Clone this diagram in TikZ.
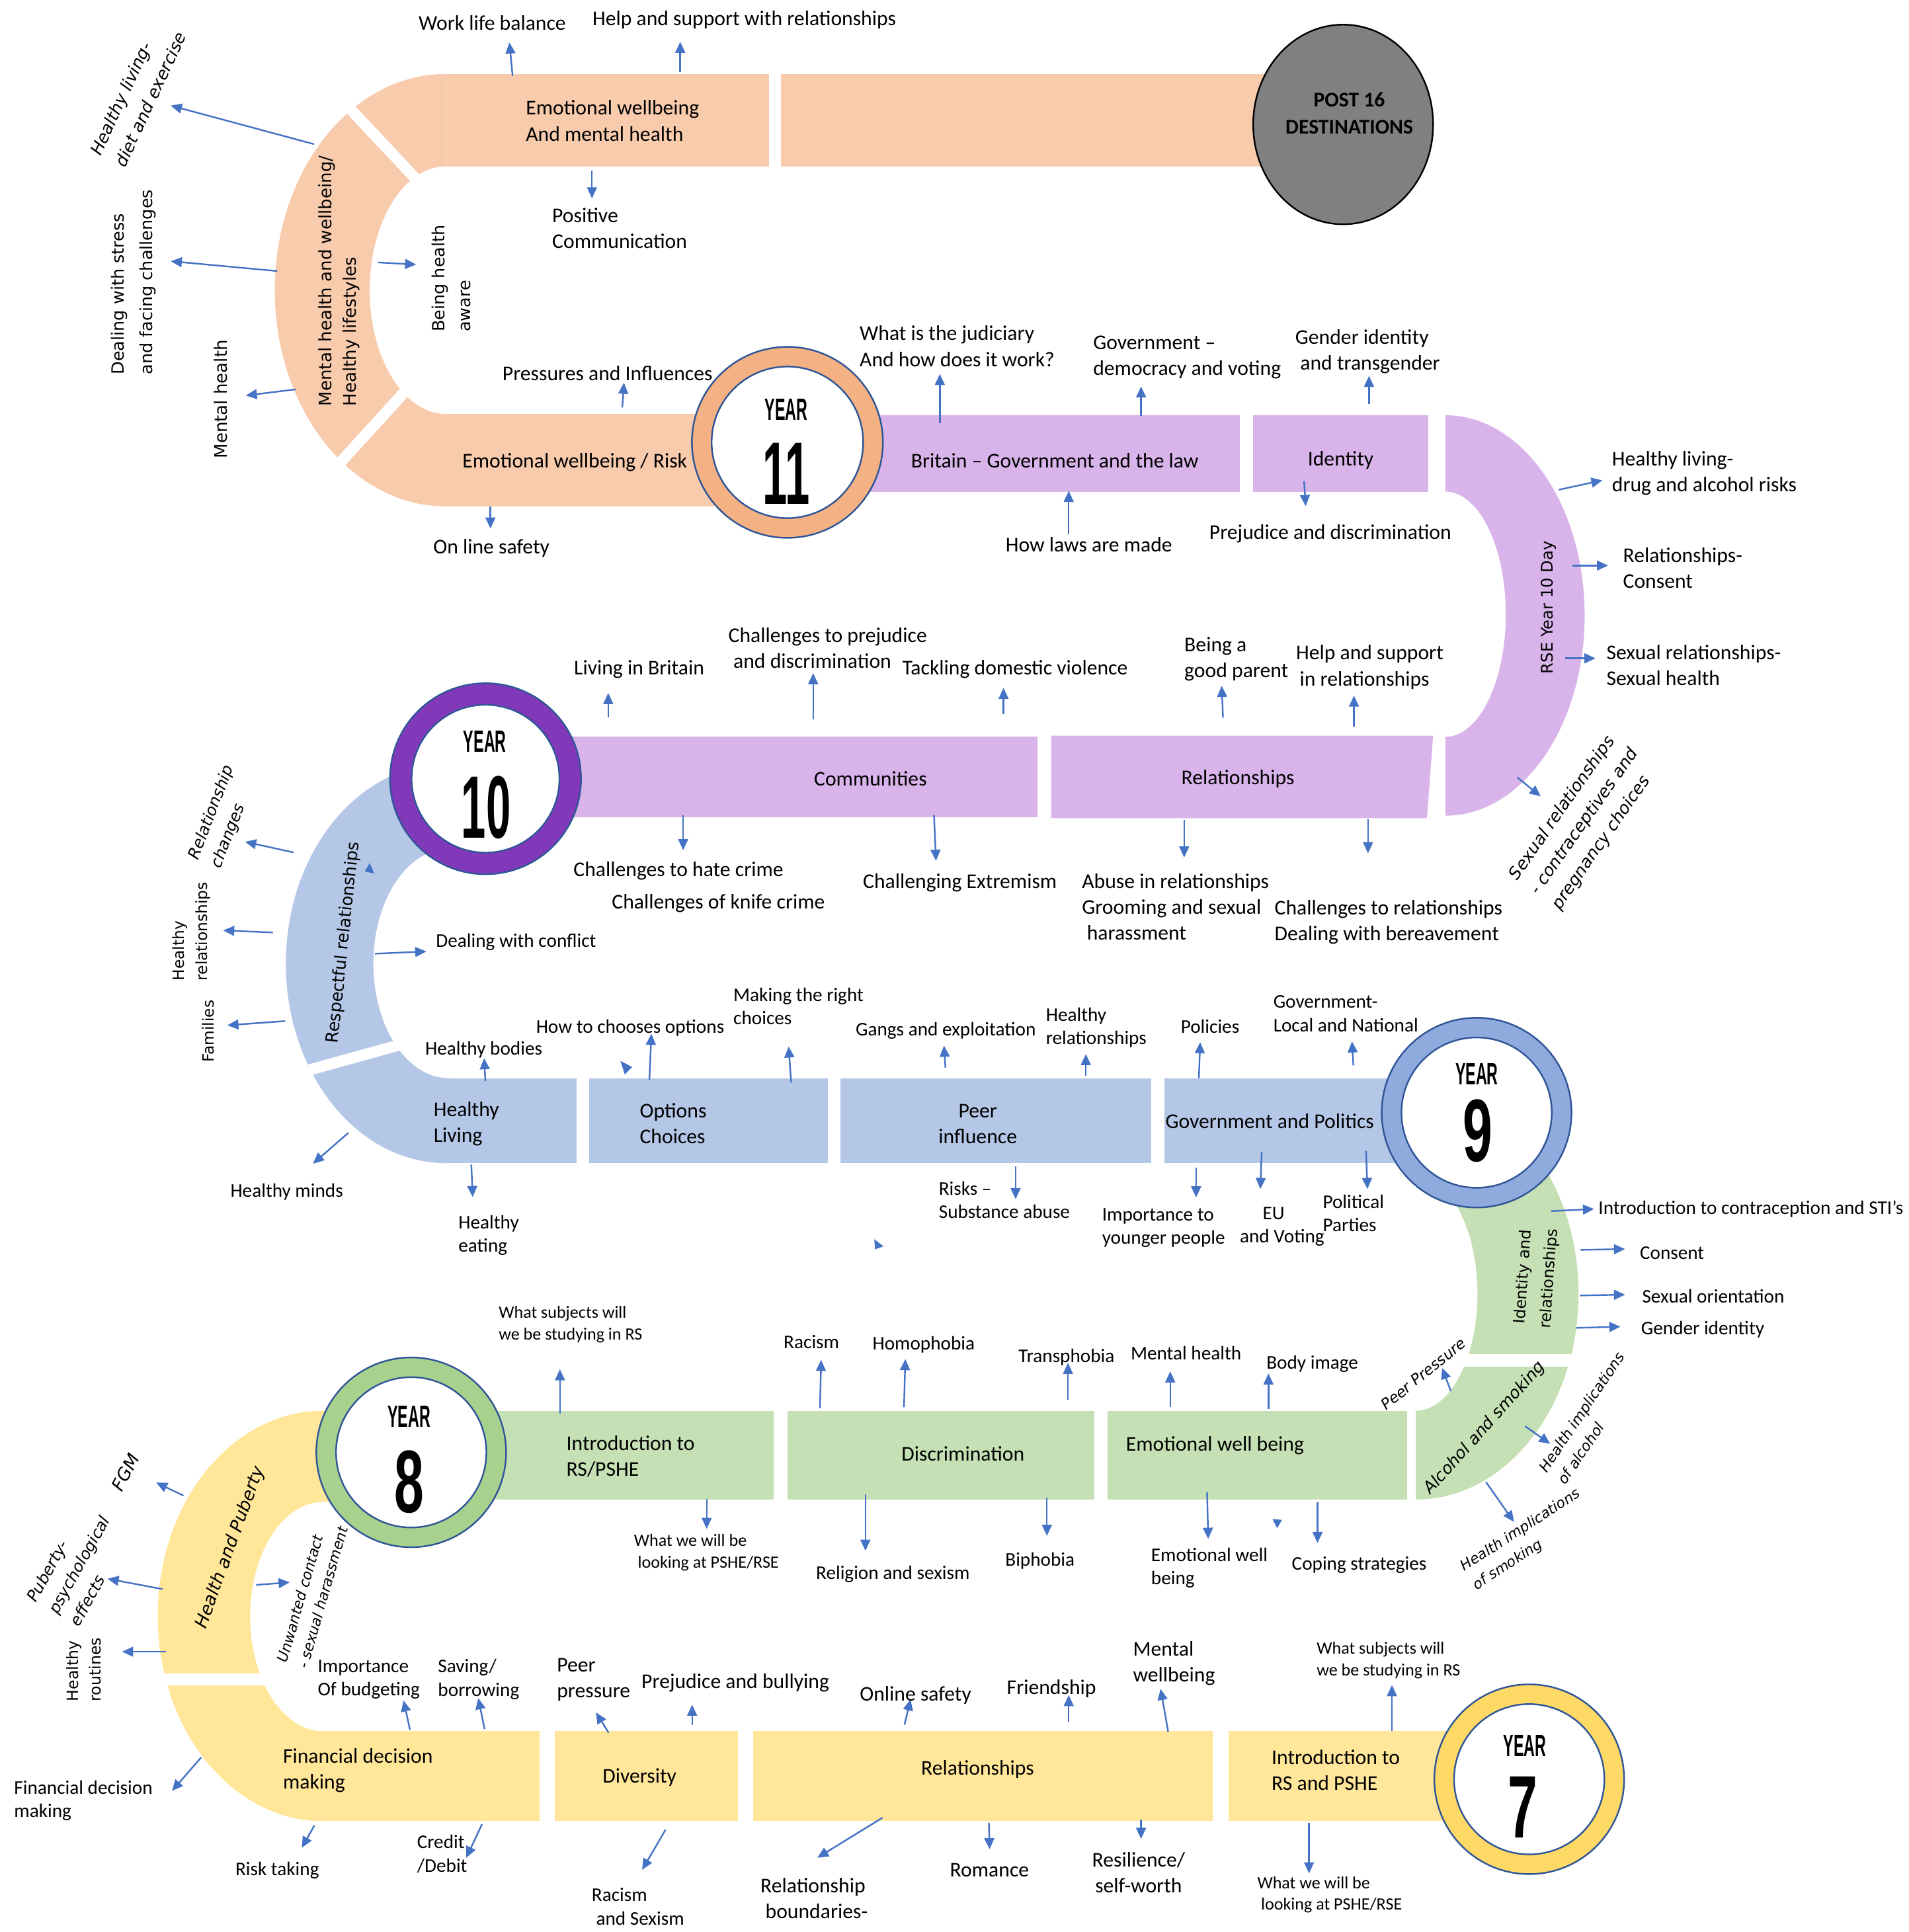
\documentclass[tikz,border=0pt]{standalone}
\usepackage{graphicx}
\usepackage{fontspec}
\setmainfont{Carlito}
\newfontfamily\vfont{DejaVu Sans}
\newfontfamily\yfont{Liberation Sans}
\usetikzlibrary{arrows.meta,shapes.geometric}
\definecolor{peach}{HTML}{F8CBAD}
\definecolor{lav}{HTML}{D8B4EA}
\definecolor{lblue}{HTML}{B4C7E7}
\definecolor{lgreen}{HTML}{C5E0B4}
\definecolor{lyellow}{HTML}{FFE699}
\definecolor{ringA}{HTML}{F4B183}
\definecolor{ringB}{HTML}{8139BA}
\definecolor{ringC}{HTML}{8FAADC}
\definecolor{ringD}{HTML}{A9D18E}
\definecolor{ringE}{HTML}{FFD966}
\definecolor{outl}{HTML}{2F5597}
\definecolor{arrowblue}{HTML}{4472C4}
\definecolor{greyA}{HTML}{808080}
\newcommand\arrw[3]{\coordinate (#1a) at (#2); \coordinate (#1b) at (#3); \draw[arr] (#1a) -- (#1b);}
\newcommand\yeartext[1]{\scalebox{0.5}[1]{#1}}
\tikzset{
 lbl/.style={inner sep=0pt, font=\fontsize{17}{21}\selectfont, align=left},
 mid/.style={inner sep=0pt, font=\fontsize{15.7}{19}\selectfont, align=left},
 sml/.style={inner sep=0pt, font=\fontsize{14}{17.5}\selectfont, align=left},
 vlbl/.style={inner sep=0pt, font=\vfont\fontsize{13.5}{22}\selectfont, align=left},
 vit/.style={inner sep=0pt, font=\vfont\itshape\fontsize{13.5}{21}\selectfont, align=left},
 arr/.style={draw=arrowblue, line width=1.3pt, -{Triangle[length=9pt,width=8pt]}},
 gapline/.style={draw=white, line width=9pt},
 ring/.style={circle, draw=outl, line width=1.3pt, inner sep=0pt, minimum size=155pt},
 hole/.style={circle, draw=outl, fill=white, line width=1.3pt, inner sep=0pt, minimum size=122pt},
 yr/.style={inner sep=0pt, font=\yfont\bfseries\fontsize{25}{25}\selectfont},
 yn/.style={inner sep=0pt, font=\yfont\bfseries\fontsize{72}{72}\selectfont},
 stray/.style={fill=arrowblue},
}
\begin{document}
\begin{tikzpicture}[x=1pt,y=-1pt]
\useasboundingbox (0,0) rectangle (1549,1568);
\fill[white] (0,0) rectangle (1549,1568);

% ---------- Year 11 (peach) ----------
\fill[peach] (362,60) .. controls (285.2,60) and (223,138.6) .. (223,235.5)
  .. controls (223,332.4) and (285.2,411) .. (362,411) -- (362,336)
  .. controls (327.8,336) and (300,291) .. (300,235.5)
  .. controls (300,180) and (327.8,135) .. (362,135) -- cycle;
\fill[peach] (362,60) rectangle (624,135);
\fill[peach] (634,60) rectangle (1090,135);
\fill[peach] (360,336) rectangle (600,411);
\draw[gapline] (280,84) -- (342,150);
\draw[gapline] (333,313) -- (271,381);

% ---------- purple ----------
\fill[lav] (690,337) rectangle (1006,399);
\fill[lav] (1017,337) rectangle (1159,399);
\fill[lav] (1173,337) .. controls (1235.4,337) and (1286,409.8) .. (1286,499.5)
  .. controls (1286,589.2) and (1235.4,662) .. (1173,662) -- (1173,598)
  .. controls (1200.1,598) and (1222,553.5) .. (1222,498.5)
  .. controls (1222,443.5) and (1200.1,399) .. (1173,399) -- cycle;
\fill[lav] (430,598) rectangle (842,663);
\fill[lav] (853,597) -- (1163,597) -- (1158,664) -- (853,664) -- cycle;

% ---------- blue ----------
\fill[lblue] (362,620) .. controls (290.2,620) and (232,692.5) .. (232,782)
  .. controls (232,871.5) and (290.2,944) .. (362,944) -- (364,875)
  .. controls (330.3,875) and (303,833.4) .. (303,782)
  .. controls (303,730.6) and (330.3,689) .. (364,689) -- cycle;
\draw[gapline] (245,870) -- (328,847);
\fill[lblue] (360,875) rectangle (468,944);
\fill[lblue] (478,875) rectangle (672,944);
\fill[lblue] (682,875) rectangle (934,944);
\fill[lblue] (945,875) rectangle (1150,944);

% ---------- green ----------
\fill[lgreen] (1149,883) .. controls (1221.9,883) and (1281,957.8) .. (1281,1050)
  .. controls (1281,1142.2) and (1221.9,1217) .. (1149,1217) -- (1149,1145)
  .. controls (1176.6,1145) and (1199,1102.5) .. (1199,1050)
  .. controls (1199,997.5) and (1176.6,955) .. (1149,955) -- cycle;
\draw[gapline, line width=10pt] (1175,1104) -- (1292,1104);
\fill[lgreen] (380,1145) rectangle (628,1217);
\fill[lgreen] (639,1145) rectangle (888,1217);
\fill[lgreen] (899,1145) rectangle (1142,1217);

% ---------- yellow ----------
\fill[lyellow] (290,1145) -- (262,1145) .. controls (188,1145) and (128,1219.5) .. (128,1311.5)
  .. controls (128,1403.5) and (188,1478) .. (262,1478) -- (262,1405)
  .. controls (229.4,1405) and (203,1363.4) .. (203,1312)
  .. controls (203,1260.6) and (229.4,1219) .. (262,1219) -- (290,1219) -- cycle;
\draw[gapline, line width=10pt] (112,1363) -- (218,1363);
\fill[lyellow] (257,1405) rectangle (438,1478);
\fill[lyellow] (450,1405) rectangle (599,1478);
\fill[lyellow] (611,1405) rectangle (984,1478);
\fill[lyellow] (997,1405) rectangle (1200,1478);

% ---------- circles ----------
\node[ellipse, fill=greyA, draw=black, line width=1.3pt, inner sep=0pt, minimum width=146pt, minimum height=162pt] (p16) at (1090,101) {};
\node[inner sep=0pt, font=\bfseries\fontsize{17}{22}\selectfont, align=center] (p16t) at (1095,91.7) {POST 16\\DESTINATIONS};

\node[ring, fill=ringA] (c11) at (639,359) {};
\node[hole, minimum size=123pt] (h11) at (639,359) {};
\node[yr] (y11a) at (638,332.5) {\yeartext{YEAR}};
\node[yn] (y11b) at (638,384.5) {\yeartext{11}};

\node[ring, fill=ringB] (c10) at (394,632) {};
\node[hole, minimum size=120pt] (h10) at (394,632) {};
\node[yr] (y10a) at (393.5,602) {\yeartext{YEAR}};
\node[yn] (y10b) at (394.5,655.5) {\yeartext{10}};

\node[ring, fill=ringC, minimum size=154pt] (c9) at (1198.3,903) {};
\node[hole] (h9) at (1198.3,903) {};
\node[yr] (y9a) at (1198.5,871.5) {\yeartext{YEAR}};
\node[yn] (y9b) at (1199.5,918) {\scalebox{0.6}[1]{9}};

\node[ring, fill=ringD, minimum size=154pt] (c8) at (333.7,1178.7) {};
\node[hole] (h8) at (333.7,1178.7) {};
\node[yr] (y8a) at (332,1149.5) {\yeartext{YEAR}};
\node[yn] (y8b) at (332,1202.5) {\scalebox{0.6}[1]{8}};

\node[ring, fill=ringE, minimum size=154pt] (c7) at (1241,1444) {};
\node[hole] (h7) at (1241,1444) {};
\node[yr] (y7a) at (1237.5,1417) {\yeartext{YEAR}};
\node[yn] (y7b) at (1236,1466.5) {\scalebox{0.6}[1]{7}};

% ---------- stray arrowheads ----------
\fill[stray] (300,700.4) -- (296.1,707.2) -- (303.8,709) -- cycle;
\fill[stray] (503.5,861) -- (513,866) -- (507,872) -- cycle;
\fill[stray] (709.5,1005.8) -- (710.1,1014) -- (717,1011.5) -- cycle;
\fill[stray] (1032.7,1232.8) -- (1040.3,1233.5) -- (1036.5,1240.3) -- cycle;

% ---------- arrows ----------
\arrw{ar01}{416,61.6}{413.4,34.5}
\arrw{ar02}{552,58.5}{552,33.9}
\arrw{ar03}{254.9,117}{138.6,85.7}
\arrw{ar04}{225,220}{138.6,212}
\arrw{ar05}{240,316}{199.5,321}
\arrw{ar06}{306.8,213}{337.7,214.7}
\arrw{ar07}{480.4,138.6}{480.4,161}
\arrw{ar08}{505,330.6}{506.4,310.6}
\arrw{ar09}{398,411}{398,429}
\arrw{ar10}{762.7,343.5}{762.7,303.5}
\arrw{ar11}{926,337.4}{926,313.6}
\arrw{ar12}{1111,328}{1111,305}
\arrw{ar13}{1058.3,390.4}{1059.6,410.7}
\arrw{ar14}{867.3,433.8}{867.3,398.4}
\arrw{ar15}{1265,397.5}{1300.4,389.8}
\arrw{ar16}{1276,459}{1305,459}
\arrw{ar17}{1270.3,534.3}{1294.8,534.3}
\arrw{ar18}{1231.3,630.9}{1250.3,646.3}
\arrw{ar19}{493.6,582.3}{493.6,562.4}
\arrw{ar20}{659.9,584}{659.9,546.3}
\arrw{ar21}{814.4,579.5}{814.4,558.3}
\arrw{ar22}{992.5,582.3}{991.4,556.6}
\arrw{ar23}{1098.8,589.8}{1098.8,564.5}
\arrw{ar24}{554.4,661.7}{554.4,690}
\arrw{ar25}{758,661.7}{759.6,698.6}
\arrw{ar26}{961,665.4}{961,695.9}
\arrw{ar27}{1110.2,665}{1110.2,692.5}
\arrw{ar28}{238.2,691.8}{198.9,683.2}
\arrw{ar29}{221.4,756.8}{181.1,755.1}
\arrw{ar30}{231.4,828.7}{184.5,832.1}
\arrw{ar31}{304.3,774}{346,772.2}
\arrw{ar32}{393.9,877.3}{392.9,858.8}
\arrw{ar33}{527,876.6}{528.6,839}
\arrw{ar34}{642,878.4}{640,849.3}
\arrw{ar35}{767.2,866.4}{766.1,848.6}
\arrw{ar36}{881.2,873.2}{881.2,855.4}
\arrw{ar37}{972.9,875}{974,845.8}
\arrw{ar38}{1098.3,864.7}{1097.2,845.2}
\arrw{ar39}{282.7,919.4}{254,944.4}
\arrw{ar40}{382.5,945.2}{383.6,971.5}
\arrw{ar41}{824.2,946.8}{824.2,973.2}
\arrw{ar42}{970.7,947.5}{970.7,971.8}
\arrw{ar43}{1023.9,934.8}{1022.8,965}
\arrw{ar44}{1108.6,934.1}{1109.7,965}
\arrw{ar45}{1259,982.9}{1293.6,981.2}
\arrw{ar46}{1282.7,1014.4}{1318.8,1013.7}
\arrw{ar47}{1282.2,1051.4}{1318.8,1050.7}
\arrw{ar48}{1279.4,1077.7}{1315,1076.7}
\arrw{ar49}{1177.4,1129}{1170.3,1110.2}
\arrw{ar50}{1237.7,1157.5}{1258,1171.8}
\arrw{ar51}{1205.9,1202.7}{1228.6,1235.2}
\arrw{ar52}{454.4,1147.4}{454.4,1111.3}
\arrw{ar53}{665.4,1142.8}{666.4,1103.7}
\arrw{ar54}{733.6,1142.1}{734.7,1103}
\arrw{ar55}{866.7,1135.9}{866.7,1106.1}
\arrw{ar56}{949.7,1142}{949.7,1113}
\arrw{ar57}{1029.4,1143.4}{1029.4,1114.7}
\arrw{ar58}{573.5,1216.3}{573.5,1240.8}
\arrw{ar59}{702.3,1212.8}{702.3,1258.6}
\arrw{ar60}{849.6,1215.6}{849.6,1246.5}
\arrw{ar61}{979.6,1211.2}{980.5,1248.9}
\arrw{ar62}{1069.2,1219}{1069.2,1252.3}
\arrw{ar63}{148.9,1213.8}{126.8,1203.3}
\arrw{ar64}{131.9,1289.7}{87.3,1281.3}
\arrw{ar65}{134.5,1340.5}{99.1,1340.5}
\arrw{ar66}{207.9,1286.3}{235.1,1284.2}
\arrw{ar67}{332.7,1403.8}{327.5,1380}
\arrw{ar68}{393.3,1403.4}{388.1,1378.2}
\arrw{ar69}{493.9,1406.2}{483.6,1389.8}
\arrw{ar70}{561.7,1400}{561.7,1383.5}
\arrw{ar71}{734,1399.8}{739,1379.2}
\arrw{ar72}{867.3,1397.5}{867.3,1375.7}
\arrw{ar73}{948,1405.5}{941.9,1370.7}
\arrw{ar74}{1129.6,1405.1}{1129.6,1367.6}
\arrw{ar75}{163.3,1426.2}{139.6,1453.5}
\arrw{ar76}{255.2,1481.4}{244.9,1499.6}
\arrw{ar77}{391.2,1480.4}{378.4,1507.7}
\arrw{ar78}{540.1,1485}{521.1,1517.5}
\arrw{ar79}{716.2,1475.2}{663.3,1507.7}
\arrw{ar80}{802.5,1479.3}{803.1,1500.8}
\arrw{ar81}{926,1476.6}{926,1492.4}
\arrw{ar82}{1062.3,1479.3}{1062.3,1520.4}

% ---------- labels: Year 11 ----------
\node[lbl] (t01) at (399.5,18.5) {Work life balance};
\node[lbl] (t02) at (604,16) {Help and support with relationships};
\node[lbl, anchor=west] (t03) at (426.6,98) {Emotional wellbeing\\And mental health};
\node[lbl, anchor=west] (t04) at (448,185) {Positive\\Communication};
\node[lbl] (t05) at (493,303) {Pressures and Influences};
\node[lbl] (t06) at (466.5,375) {Emotional wellbeing / Risk};
\node[lbl] (t07) at (398.8,445) {On line safety};
\node[vit, font=\vfont\itshape\fontsize{13.7}{22}\selectfont, rotate=65] (t09) at (112,76) {Healthy living-\\diet and exercise};
\node[vlbl, font=\vfont\fontsize{13.7}{23}\selectfont, rotate=90] (t10) at (108.5,229) {Dealing with stress\\and facing challenges};
\node[vlbl, font=\vfont\fontsize{14}{20}\selectfont, rotate=90] (t11) at (179,324) {Mental health};
\node[vlbl, font=\vfont\fontsize{14}{20}\selectfont, rotate=90] (t12) at (275,228) {Mental health and wellbeing/\\Healthy lifestyles};
\node[vlbl, font=\vfont\fontsize{13.7}{21}\selectfont, rotate=90] (t13) at (366,226) {Being health\\aware};

% ---------- purple row 1 ----------
\node[lbl] (t14) at (856,374) {Britain – Government and the law};
\node[lbl] (t15) at (1088,373.7) {Identity};
\node[lbl, anchor=west] (t16) at (697.5,281) {What is the judiciary\\And how does it work?};
\node[lbl, anchor=west] (t17) at (887,290) {Government –\\democracy and voting};
\node[lbl, anchor=west] (t18) at (1051,285.3) {Gender identity\\\hspace*{4pt}and transgender};
\node[lbl] (t19) at (883.7,442) {How laws are made};
\node[lbl] (t20) at (1079.6,433) {Prejudice and discrimination};
\node[vlbl, font=\vfont\fontsize{13}{20}\selectfont, rotate=90] (t21) at (1256.5,493) {RSE Year 10 Day};
\node[lbl, anchor=west] (t22) at (1308,384) {Healthy living-\\drug and alcohol risks};
\node[lbl, anchor=west] (t23) at (1317,461) {Relationships-\\Consent};
\node[lbl, anchor=west] (t24) at (1303.5,540) {Sexual relationships-\\Sexual health};
\node[vit, font=\vfont\itshape\fontsize{13.7}{21}\selectfont, rotate=55] (t25) at (1286,667) {Sexual relationships\\- contraceptives and\\pregnancy choices};

% ---------- purple row 2 ----------
\node[lbl] (t26) at (706.4,632) {Communities};
\node[lbl] (t27) at (1004.6,632) {Relationships};
\node[lbl] (t28) at (518.7,543) {Living in Britain};
\node[lbl, anchor=west] (t29) at (591,526) {Challenges to prejudice\\\hspace*{4pt}and discrimination};
\node[lbl] (t30) at (823.7,543) {Tackling domestic violence};
\node[lbl, anchor=west] (t31) at (961,535) {Being a\\good parent};
\node[lbl, anchor=west] (t32) at (1051.6,541.5) {Help and support\\\hspace*{3pt}in relationships};
\node[lbl] (t33) at (550.6,707) {Challenges to hate crime};
\node[lbl] (t34) at (583,733) {Challenges of knife crime};
\node[lbl] (t35) at (779,716.4) {Challenging Extremism};
\node[lbl, anchor=west] (t36) at (877.9,736) {Abuse in relationships\\Grooming and sexual\\\hspace*{4pt}harassment};
\node[lbl, anchor=west] (t37) at (1034.2,748.5) {Challenges to relationships\\Dealing with bereavement};

% ---------- blue arc ----------
\node[vit, font=\vfont\itshape\fontsize{13}{19.5}\selectfont, rotate=69] (t38) at (181,663) {Relationship\\changes};
\node[vlbl, font=\vfont\fontsize{12.5}{19}\selectfont, rotate=90] (t39) at (155.5,756) {Healthy\\relationships};
\node[vlbl, font=\vfont\fontsize{12.5}{19}\selectfont, rotate=90] (t40) at (169,837) {Families};
\node[vlbl, font=\vfont\fontsize{13.7}{20}\selectfont, rotate=84] (t41) at (279,765) {Respectful relationships};
\node[mid, anchor=west] (t42) at (353.6,764.4) {Dealing with conflict};
\node[mid] (t43) at (232.7,967.4) {Healthy minds};

% ---------- blue row ----------
\node[lbl, anchor=west] (t44) at (351.7,912) {Healthy\\Living};
\node[lbl, anchor=west] (t45) at (519,912) {Options\\Choices};
\node[lbl, align=center] (t46) at (793.5,912) {Peer\\influence};
\node[lbl] (t47) at (1030.4,910) {Government and Politics};
\node[mid] (t48) at (392.6,852) {Healthy bodies};
\node[mid] (t49) at (511.4,834.5) {How to chooses options};
\node[mid, anchor=west] (t50) at (595,816.7) {Making the right\\choices};
\node[mid] (t51) at (767.5,836.3) {Gangs and exploitation};
\node[mid, anchor=west] (t52) at (848.6,834) {Healthy\\relationships};
\node[mid] (t53) at (982,832.8) {Policies};
\node[mid, anchor=west] (t54) at (1033.2,822.7) {Government-\\Local and National};
\node[mid, anchor=west] (t55) at (371.9,1002.5) {Healthy\\eating};
\node[mid, anchor=west] (t56) at (761.7,974) {Risks –\\Substance abuse};
\node[mid, anchor=west] (t57) at (894.2,996.6) {Importance to\\younger people};
\node[mid, anchor=west] (t58) at (1006,995.6) {\hspace*{18.5pt}EU\\and Voting};
\node[mid, anchor=west] (t59) at (1073.3,984.6) {Political\\Parties};

% ---------- green arc ----------
\node[vlbl, font=\vfont\fontsize{12.7}{21}\selectfont, rotate=86, align=center] (t60) at (1247,1037) {Identity and\\relationships};
\node[mid, anchor=west] (t61) at (1297,981.2) {Introduction to contraception and STI’s};
\node[mid, anchor=west] (t62) at (1330.6,1017.1) {Consent};
\node[mid, anchor=west] (t63) at (1332.5,1052) {Sexual orientation};
\node[mid, anchor=west] (t64) at (1331.6,1078.7) {Gender identity};
\node[vit, font=\vfont\itshape\fontsize{13.4}{20}\selectfont, rotate=48] (t65) at (1205,1159) {Alcohol and smoking};
\node[vit, font=\vfont\itshape\fontsize{12.2}{18}\selectfont, rotate=39] (t66) at (1155,1115) {Peer Pressure};
\node[vit, font=\vfont\itshape\fontsize{11.8}{18}\selectfont, rotate=56] (t67) at (1291,1151) {Health implications\\of alcohol};
\node[vit, font=\vfont\itshape\fontsize{11.7}{18}\selectfont, rotate=33] (t68) at (1239,1249.6) {Health implications\\of smoking};

% ---------- green row ----------
\node[lbl, anchor=west] (t69) at (459.5,1182) {Introduction to\\RS/PSHE};
\node[lbl] (t70) at (781.5,1180) {Discrimination};
\node[lbl] (t71) at (986,1173) {Emotional well being};
\node[sml, anchor=west] (t72) at (404.6,1075) {What subjects will\\we be studying in RS};
\node[mid] (t73) at (658.5,1089) {Racism};
\node[mid] (t74) at (749.6,1091.4) {Homophobia};
\node[mid] (t75) at (865.5,1101.7) {Transphobia};
\node[mid] (t76) at (962.5,1098.3) {Mental health};
\node[mid] (t77) at (1065,1106.8) {Body image};
\node[sml, anchor=west] (t78) at (514.4,1260) {What we will be\\\hspace*{3pt}looking at PSHE/RSE};
\node[mid] (t79) at (724.6,1277.5) {Religion and sexism};
\node[mid] (t80) at (844,1267) {Biphobia};
\node[mid, anchor=west] (t81) at (934,1272.5) {Emotional well\\being};
\node[mid] (t82) at (1103,1270) {Coping strategies};

% ---------- yellow arc ----------
\node[vit, font=\vfont\itshape\fontsize{14.3}{20}\selectfont, rotate=70] (t83) at (187,1256) {Health and Puberty};
\node[vit, font=\vfont\itshape\fontsize{14.3}{20}\selectfont, rotate=62] (t84) at (102,1195) {FGM};
\node[vit, font=\vfont\itshape\fontsize{13}{20}\selectfont, rotate=61] (t85) at (64,1270) {Puberty-\\psychological\\effects};
\node[vlbl, font=\vfont\fontsize{12.7}{18}\selectfont, rotate=90] (t86) at (68,1355) {Healthy\\routines};
\node[vit, font=\vfont\itshape\fontsize{11.7}{17.5}\selectfont, rotate=74] (t87) at (253.5,1294) {Unwanted contact\\- sexual harassment};

% ---------- yellow row ----------
\node[lbl, anchor=west] (t88) at (229.5,1437) {Financial decision\\making};
\node[lbl] (t89) at (519,1442.3) {Diversity};
\node[lbl] (t90) at (793.4,1436) {Relationships};
\node[lbl, anchor=west] (t91) at (1031.8,1436.7) {Introduction to\\RS and PSHE};
\node[mid, anchor=west] (t92) at (257.7,1363) {Importance\\Of budgeting};
\node[mid, anchor=west] (t93) at (355.3,1363) {Saving/\\borrowing};
\node[lbl, anchor=west] (t94) at (451.8,1363) {Peer\\pressure};
\node[lbl] (t95) at (596.8,1366) {Prejudice and bullying};
\node[lbl] (t96) at (743,1375.8) {Online safety};
\node[lbl] (t97) at (853.3,1370.7) {Friendship};
\node[lbl, anchor=west] (t98) at (919.3,1350) {Mental\\wellbeing};
\node[sml, anchor=west] (t99) at (1068.4,1347.5) {What subjects will\\we be studying in RS};
\node[mid, anchor=west] (t100) at (11.3,1461.4) {Financial decision\\making};
\node[mid] (t101) at (225,1518) {Risk taking};
\node[mid, anchor=west] (t102) at (338.3,1504.7) {Credit\\/Debit};
\node[mid, anchor=west] (t103) at (480,1547.4) {Racism\\\hspace*{3.6pt}and Sexism};
\node[lbl, anchor=west] (t104) at (617,1540.5) {Relationship\\\hspace*{4pt}boundaries-};
\node[lbl] (t105) at (803,1517.7) {Romance};
\node[lbl, align=center] (t106) at (924,1519.7) {Resilience/\\self-worth};
\node[sml, anchor=west] (t107) at (1020.2,1537.8) {What we will be\\\hspace*{3pt}looking at PSHE/RSE};
\end{tikzpicture}
\end{document}
